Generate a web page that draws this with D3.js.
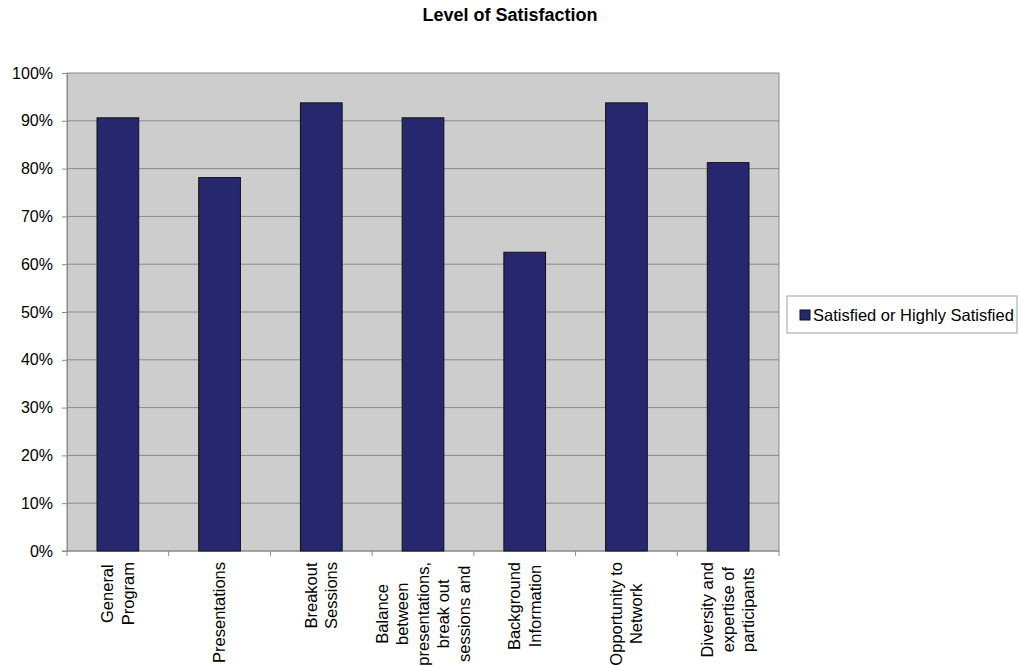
<!DOCTYPE html>
<html>
<head>
<meta charset="utf-8">
<script src="https://cdn.jsdelivr.net/npm/d3@7"></script>
<style>
  body { margin: 0; background: #fff; }
</style>
</head>
<body>
<div id="chart"></div>
<script>
const categories = [
    ["General", "Program"],
    ["Presentations"],
    ["Breakout", "Sessions"],
    ["Balance", "between", "presentations,", "break out", "sessions and"],
    ["Background", "Information"],
    ["Opportunity to", "Network"],
    ["Diversity and", "expertise of", "participants"]
];
const values = [0.90625, 0.78125, 0.9375, 0.90625, 0.625, 0.9375, 0.8125];
const yTicks = [0, 0.1, 0.2, 0.3, 0.4, 0.5, 0.6, 0.7, 0.8, 0.9, 1];
const seriesName = "Satisfied or Highly Satisfied";

const svg = d3.select("#chart")
              .append("svg")
              .attr("width", 1019)
              .attr("height", 667);

const plotLeft = 67, plotRight = 779, plotTop = 73, plotBottom = 551;
const font = "Liberation Sans, Arial, sans-serif";

const keys = categories.map(d => d.join(" "));

const xScale = d3.scaleBand()
                 .domain(keys)
                 .range([plotLeft, plotRight])
                 .paddingInner(0.59)
                 .paddingOuter(0.295);

const xCat = d3.scaleBand()
               .domain(keys)
               .range([plotLeft, plotRight]);

const yScale = d3.scaleLinear()
                 .domain([0, 1])
                 .range([plotBottom, plotTop]);

// title
svg.append("text")
   .text("Level of Satisfaction")
   .attr("x", 510)
   .attr("y", 21)
   .attr("text-anchor", "middle")
   .style("font-family", font)
   .style("font-weight", "bold")
   .style("font-size", "18px");

// plot area
svg.append("rect")
   .attr("x", plotLeft)
   .attr("y", plotTop)
   .attr("width", plotRight - plotLeft)
   .attr("height", plotBottom - plotTop)
   .attr("fill", "#cdcdcd")
   .attr("stroke", "#8a8a8a");

// y axis with gridlines
const yAxis = svg.append("g")
                 .attr("transform", `translate(${plotLeft},0)`)
                 .call(d3.axisLeft(yScale)
                         .tickValues(yTicks)
                         .tickFormat(d3.format(".0%"))
                         .tickSize(5)
                         .tickPadding(9));
yAxis.select(".domain").attr("stroke", "#8a8a8a");
yAxis.selectAll(".tick line").attr("stroke", "#8a8a8a");
yAxis.selectAll(".tick text")
     .style("font-family", font)
     .style("font-size", "16px")
     .attr("fill", "#000");

svg.append("g")
   .selectAll("line")
   .data(yTicks.slice(1, -1))
   .join("line")
   .attr("x1", plotLeft)
   .attr("x2", plotRight)
   .attr("y1", d => yScale(d))
   .attr("y2", d => yScale(d))
   .attr("stroke", "#8a8a8a");

// x axis ticks at category boundaries
svg.append("g")
   .selectAll("line")
   .data(keys.map(k => xCat(k)).concat([plotRight]))
   .join("line")
   .attr("x1", d => d)
   .attr("x2", d => d)
   .attr("y1", plotBottom)
   .attr("y2", plotBottom + 5)
   .attr("stroke", "#8a8a8a");
svg.append("line")
   .attr("x1", plotLeft - 5)
   .attr("x2", plotRight)
   .attr("y1", plotBottom)
   .attr("y2", plotBottom)
   .attr("stroke", "#8a8a8a");

// bars
svg.append("g")
   .selectAll("rect")
   .data(values)
   .join("rect")
   .attr("x", (d, i) => xScale(keys[i]))
   .attr("y", d => yScale(d))
   .attr("width", xScale.bandwidth())
   .attr("height", d => yScale(0) - yScale(d))
   .attr("fill", "#27276f")
   .attr("stroke", "#111");

// category labels, rotated
const lineHeight = 20.5;
const labels = svg.append("g")
                  .selectAll("g")
                  .data(categories)
                  .join("g");

labels.each(function(lines, i) {
    const g = d3.select(this);
    const texts = g.selectAll("text")
                   .data(lines)
                   .join("text")
                   .text(d => d)
                   .attr("x", 0)
                   .attr("y", (d, j) => (j - (lines.length - 1) / 2) * lineHeight)
                   .attr("dy", "0.35em")
                   .attr("text-anchor", "middle")
                   .style("font-family", font)
                   .style("font-size", "16.5px");
    let maxLen = 0;
    texts.each(function() { maxLen = Math.max(maxLen, this.getComputedTextLength()); });
    const cx = xCat(keys[i]) + xCat.bandwidth() / 2;
    g.attr("transform", `translate(${cx},${plotBottom + 11 + maxLen / 2}) rotate(-90)`);
});

// legend
const legend = svg.append("g").attr("transform", "translate(787,296)");
legend.append("rect")
      .attr("width", 230)
      .attr("height", 37)
      .attr("fill", "#fff")
      .attr("stroke", "#a0a0a0");
legend.append("rect")
      .attr("x", 13)
      .attr("y", 14)
      .attr("width", 10)
      .attr("height", 10)
      .attr("fill", "#27276f")
      .attr("stroke", "#111");
legend.append("text")
      .text(seriesName)
      .attr("x", 26)
      .attr("y", 25)
      .style("font-family", font)
      .style("font-size", "16.5px");
</script>
</body>
</html>
